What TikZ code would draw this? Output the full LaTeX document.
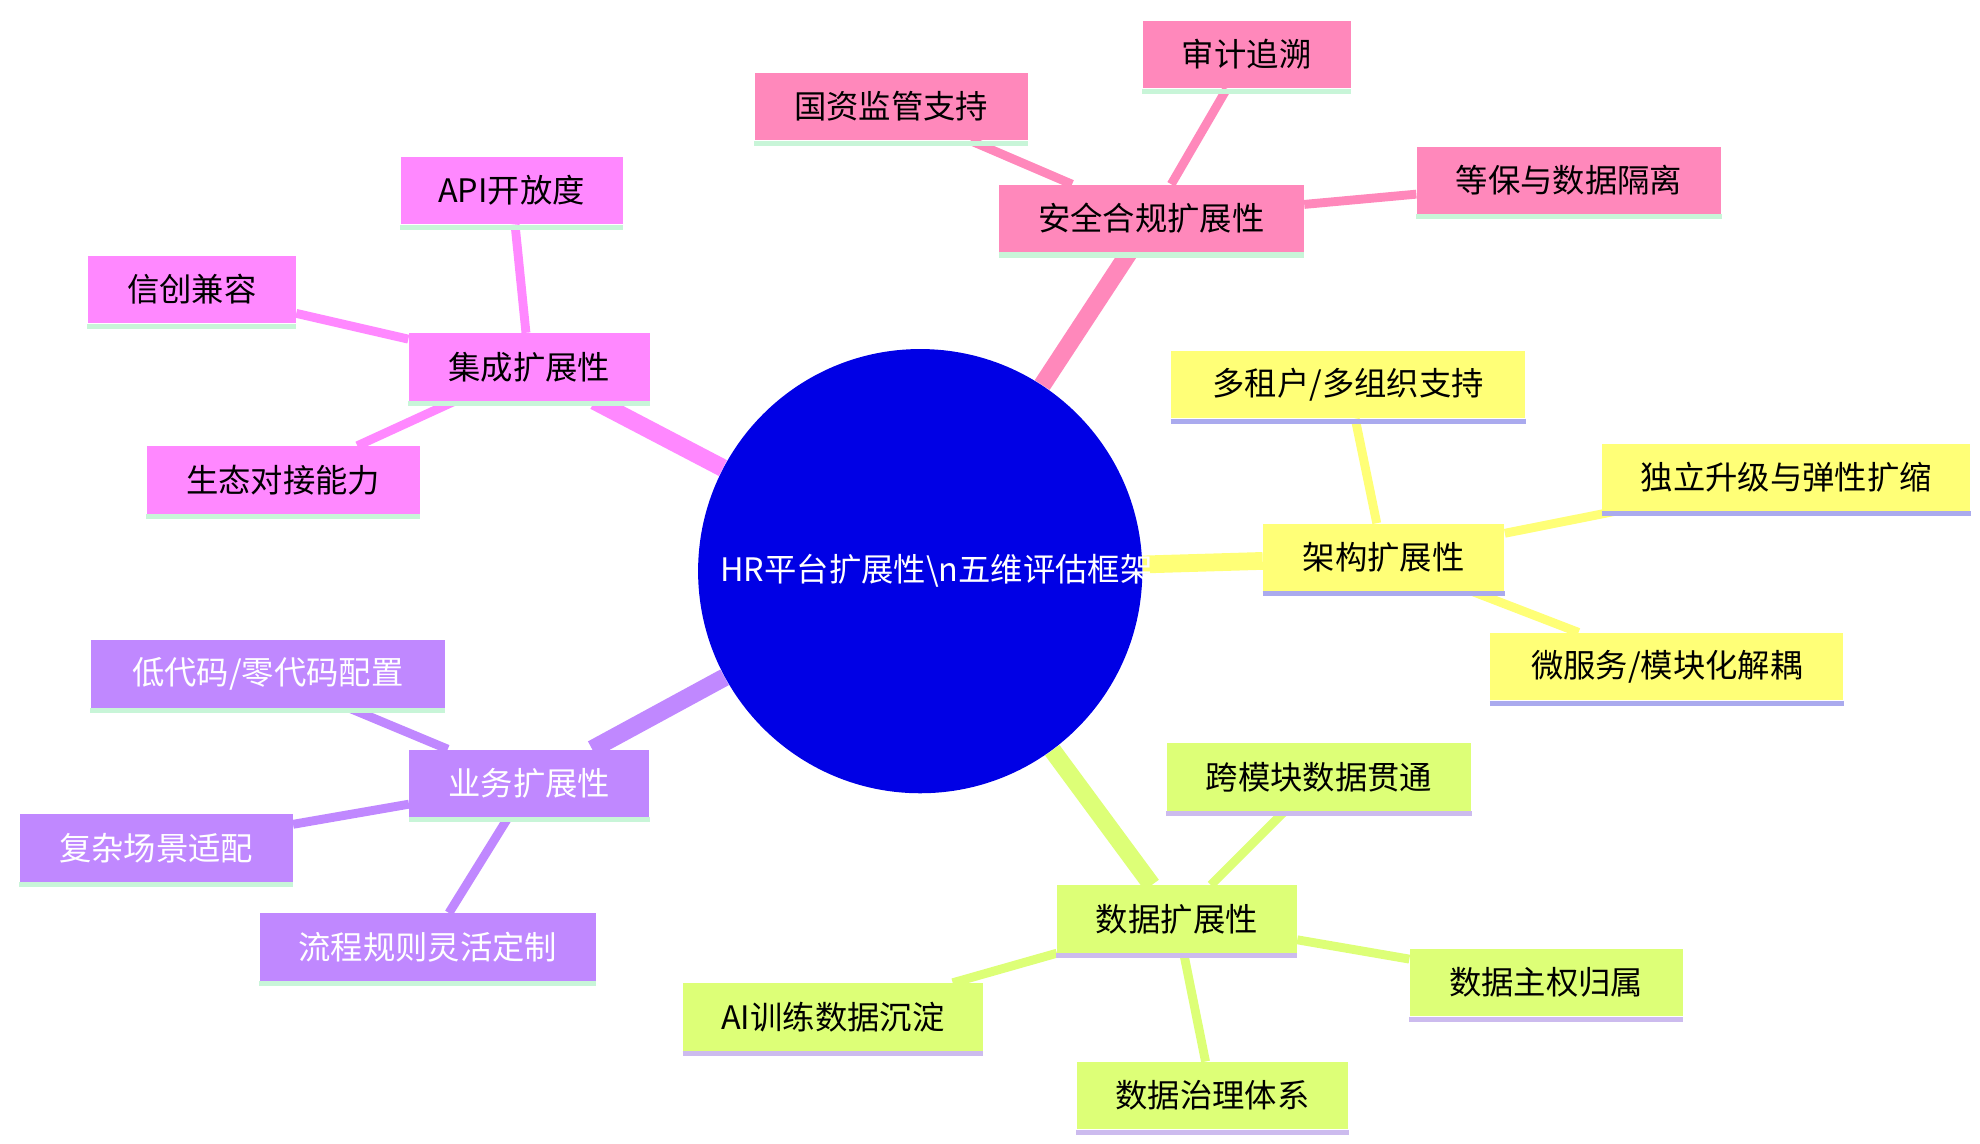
\documentclass[tikz,border=0pt]{standalone}
\usepackage{fontspec}
\setmainfont{Noto Sans CJK SC}
\usetikzlibrary{backgrounds}
\definecolor{secC}{HTML}{FF88BB}
\definecolor{intC}{HTML}{FF88FF}
\definecolor{arcC}{HTML}{FFFF77}
\definecolor{datC}{HTML}{DDFF77}
\definecolor{bizC}{HTML}{C088FF}
\definecolor{ulG}{HTML}{C8F5D8}
\definecolor{ulB}{HTML}{AAAAEE}
\definecolor{ulP}{HTML}{CCBBEE}
\tikzset{
  box/.style={rectangle, minimum height=1.06cm, inner sep=0pt, font=\fontsize{14.5}{17}\selectfont},
  trunk/.style={line width=0.28cm},
  twig/.style={line width=0.14cm},
  ul/.style={line width=0.08cm}
}
% box with a stripe under it: style, width in px, name, x, y, text, stripe colour
\newcommand\mapbox[7]{%
  \node[box, fill=#1, minimum width=#2*0.02cm] (#3) at (#4*0.02, -#5*0.02) {#6};
  \draw[ul, #7] ([yshift=-0.04cm]#3.south west) -- ([yshift=-0.04cm]#3.south east);}
\begin{document}
\begin{tikzpicture}
  \useasboundingbox (0,0) rectangle (31.2,-18.02);

  \node[circle, fill=blue!90!black, minimum size=7cm, text width=6.3cm, align=center,
    text=white, font=\fontsize{14.5}{22}\selectfont] (hub) at (14.5,-9) {HR平台扩展性\textbackslash n五维评估框架};

  % security
  \mapbox{secC}{240}{sec}{907}{172}{安全合规扩展性}{ulG}
  \mapbox{secC}{164}{audit}{982}{43}{审计追溯}{ulG}
  \mapbox{secC}{215}{sasac}{702}{84}{国资监管支持}{ulG}
  \mapbox{secC}{240}{mlps}{1236}{142}{等保与数据隔离}{ulG}
  % integration
  \mapbox{intC}{190}{intg}{417}{289}{集成扩展性}{ulG}
  \mapbox{intC}{175}{api}{403}{150}{API开放度}{ulG}
  \mapbox{intC}{164}{xc}{151}{228}{信创兼容}{ulG}
  \mapbox{intC}{215}{eco}{223}{378}{生态对接能力}{ulG}
  % architecture
  \mapbox{arcC}{190}{arch}{1090}{439}{架构扩展性}{ulB}
  \mapbox{arcC}{279}{tenant}{1062}{303}{多租户/多组织支持}{ulB}
  \mapbox{arcC}{290}{scale}{1407}{376}{独立升级与弹性扩缩}{ulB}
  \mapbox{arcC}{278}{micro}{1313}{525}{微服务/模块化解耦}{ulB}
  % data
  \mapbox{datC}{189}{data}{927}{724}{数据扩展性}{ulP}
  \mapbox{datC}{240}{cross}{1039}{612}{跨模块数据贯通}{ulP}
  \mapbox{datC}{215}{sov}{1218}{774}{数据主权归属}{ulP}
  \mapbox{datC}{214}{gov}{955}{863}{数据治理体系}{ulP}
  \mapbox{datC}{236}{ai}{656}{801}{AI训练数据沉淀}{ulP}
  % business
  \mapbox{bizC}{189}{biz}{417}{617}{\color{white}业务扩展性}{ulG}
  \mapbox{bizC}{279}{lowc}{211}{531}{\color{white}低代码/零代码配置}{ulG}
  \mapbox{bizC}{215}{cplx}{123}{668}{\color{white}复杂场景适配}{ulG}
  \mapbox{bizC}{265}{flow}{337}{746}{\color{white}流程规则灵活定制}{ulG}

  \begin{scope}[on background layer]
    \draw[trunk, secC] (hub) -- (sec);
    \draw[trunk, intC] (hub) -- (intg);
    \draw[trunk, arcC] (hub) -- (arch);
    \draw[trunk, datC] (hub) -- (data);
    \draw[trunk, bizC] (hub) -- (biz);
    \foreach \a in {audit,sasac,mlps} \draw[twig, secC] (sec) -- (\a);
    \foreach \a in {api,xc,eco} \draw[twig, intC] (intg) -- (\a);
    \foreach \a in {tenant,scale,micro} \draw[twig, arcC] (arch) -- (\a);
    \foreach \a in {cross,sov,gov,ai} \draw[twig, datC] (data) -- (\a);
    \foreach \a in {lowc,cplx,flow} \draw[twig, bizC] (biz) -- (\a);
  \end{scope}
\end{tikzpicture}
\end{document}
